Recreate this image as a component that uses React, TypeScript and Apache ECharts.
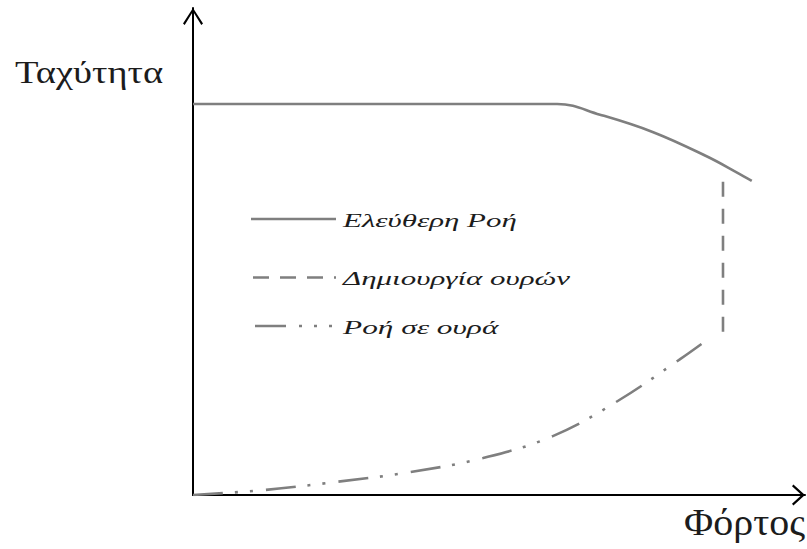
import React, { useEffect, useRef } from 'react';
import * as echarts from 'echarts';

// Series names (legend entries)
const seriesNames = ['Ελεύθερη Ροή', 'Δημιουργία ουρών', 'Ροή σε ουρά'];
// Axis titles
const yTitle = 'Ταχύτητα';
const xTitle = 'Φόρτος';

// Speed vs load, in relative units (0–100 on both axes)
const freeFlow: [number, number][] = [
  [0, 80.3],
  [52, 80.3],
  [59.5, 80.3],
  [66.5, 78.1],
  [75.2, 74.5],
  [84.0, 69.5],
  [88.9, 66.2],
  [91.3, 64.5],
];
const queueForming: [number, number][] = [
  [86.6, 64.3],
  [86.6, 33.1],
];
const queuedFlow: [number, number][] = [
  [0, 0],
  [11.4, 1.0],
  [23.5, 2.7],
  [35.5, 4.7],
  [47.4, 7.6],
  [58.8, 12.1],
  [69.4, 19.3],
  [79.6, 27.9],
  [83.3, 31.2],
];

const LINE_COLOR = '#7f7f7f';
const LINE_WIDTH = 2.6;
const TEXT_COLOR = '#1c1c1c';
const SERIF = '"Liberation Serif", "Times New Roman", serif';

// Dash patterns of the plotted lines
const DASH_QUEUE = [15, 12];
const DASH_QUEUED = [30, 12, 3, 12, 3, 13];

// Open chevron arrowhead, pointing up, drawn in its own pixel box
const chevronUp = (w: number, h: number) =>
  `path://M${w / 2},0 L${w},${h - 1.4} L${w - 1.7},${h} L${w / 2},${3.4} L1.7,${h} L0,${h - 1.4} Z`;

// One legend row: a line sample followed by an italic label
const legendRow = (
  label: string,
  y: number,
  x1: number,
  dash: number[] | null,
  scaleX: number
) => ({
  type: 'group',
  silent: true,
  children: [
    {
      type: 'line',
      shape: { x1, y1: y, x2: 336, y2: y },
      style: {
        stroke: LINE_COLOR,
        lineWidth: LINE_WIDTH,
        lineDash: dash || undefined,
        lineCap: 'butt',
      },
    },
    {
      type: 'text',
      x: 343,
      y: y + 1.5,
      scaleX,
      style: {
        text: label,
        fontFamily: SERIF,
        fontStyle: 'italic',
        fontSize: 19,
        fill: TEXT_COLOR,
        align: 'left',
        verticalAlign: 'middle',
      },
    },
  ],
});

export default function App() {
  const ref = useRef<HTMLDivElement>(null);

  useEffect(() => {
    if (!ref.current) return;
    const chart = echarts.init(ref.current, null, { renderer: 'svg' });

    const hiddenAxisParts = {
      axisTick: { show: false },
      axisLabel: { show: false },
      splitLine: { show: false },
    };

    chart.setOption({
      animation: false,
      backgroundColor: '#ffffff',
      grid: { left: 193, right: 2, top: 8, bottom: 54 },
      xAxis: {
        type: 'value',
        min: 0,
        max: 100,
        axisLine: {
          show: true,
          lineStyle: { color: '#000', width: 2 },
          symbol: ['none', chevronUp(21, 13)],
          symbolSize: [21, 13],
          symbolOffset: [0, -6.5],
        },
        ...hiddenAxisParts,
      },
      yAxis: {
        type: 'value',
        min: 0,
        max: 100,
        axisLine: {
          show: true,
          lineStyle: { color: '#000', width: 2 },
          symbol: ['none', chevronUp(20, 17)],
          symbolSize: [20, 17],
          symbolOffset: [0, -8.5],
        },
        ...hiddenAxisParts,
      },
      graphic: [
        {
          type: 'text',
          x: 15,
          y: 73,
          scaleX: 1.24,
          silent: true,
          style: {
            text: yTitle,
            fontFamily: SERIF,
            fontSize: 31,
            fill: TEXT_COLOR,
            align: 'left',
            verticalAlign: 'middle',
          },
        },
        {
          type: 'text',
          x: 805,
          y: 523,
          scaleX: 1.08,
          silent: true,
          style: {
            text: xTitle,
            fontFamily: SERIF,
            fontSize: 37,
            fill: TEXT_COLOR,
            align: 'right',
            verticalAlign: 'middle',
          },
        },
        legendRow(seriesNames[0], 219, 251, null, 1.63),
        legendRow(seriesNames[1], 277.5, 253, [16, 11], 1.63),
        legendRow(seriesNames[2], 326, 255, [31, 13, 3, 12, 3, 12, 3, 10], 1.65),
      ],
      series: [
        {
          name: seriesNames[0],
          type: 'line',
          data: freeFlow,
          symbol: 'none',
          smooth: 0.4,
          lineStyle: { color: LINE_COLOR, width: LINE_WIDTH, type: 'solid' },
          silent: true,
        },
        {
          name: seriesNames[1],
          type: 'line',
          data: queueForming,
          symbol: 'none',
          lineStyle: { color: LINE_COLOR, width: LINE_WIDTH, type: DASH_QUEUE, cap: 'butt' },
          silent: true,
        },
        {
          name: seriesNames[2],
          type: 'line',
          data: queuedFlow,
          symbol: 'none',
          smooth: 0.4,
          lineStyle: { color: LINE_COLOR, width: LINE_WIDTH, type: DASH_QUEUED, cap: 'butt' },
          silent: true,
        },
      ],
    });

    return () => chart.dispose();
  }, []);

  return <div ref={ref} style={{ width: 807, height: 549, position: 'fixed', left: 0, top: 0 }} />;
}
